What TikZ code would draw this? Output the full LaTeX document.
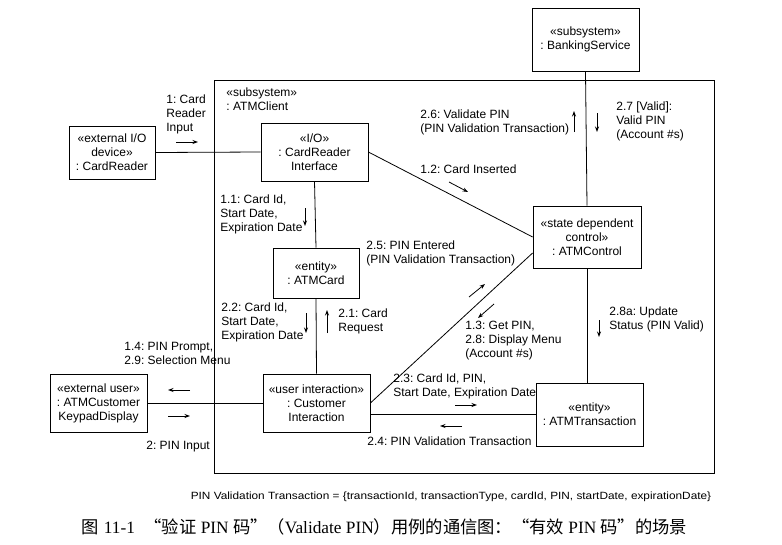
\documentclass[tikz,border=0pt]{standalone}
\usepackage{fontspec}
\setmainfont{Liberation Sans}
\newfontfamily\cjk{Noto Sans CJK SC}
\newfontfamily\lserif{Liberation Serif}
\frenchspacing
\usetikzlibrary{arrows.meta}
\tikzset{>={Stealth[length=5.5pt,width=4pt]}}
\tikzset{
    box/.style={draw, line width=0.8pt, align=center, inner sep=1pt},
    msg/.style={->, line width=0.8pt},
    lbl/.style={align=left, inner sep=0pt, anchor=west},
}

\begin{document}
\begin{tikzpicture}[x=1pt, y=-1pt, line width=0.8pt, font=\fontsize{12}{14}\selectfont]
    \useasboundingbox (0,0) rectangle (782,544);
    \node[draw, minimum width=500pt, minimum height=393pt] (atmclient) at (464,276.5) {};
    \node at (226,99) [lbl] {«subsystem»\\: ATMClient};

    \node[box, minimum width=86pt, minimum height=53pt] (cardreader) at (112,152.5) {«external I/O\\device»\\: CardReader};
    \node[box, minimum width=107pt, minimum height=58pt] (crinterface) at (314.5,152) {«I/O»\\: CardReader\\Interface};
    \node[box, minimum width=86pt, minimum height=50pt] (atmcard) at (316,273) {«entity»\\: ATMCard};
    \node[box, minimum width=107pt, minimum height=58pt] (custinteraction) at (316.5,403) {«user interaction»\\: Customer\\Interaction};
    \node[box, minimum width=97pt, minimum height=58pt] (keypad) at (98.5,403) {«external user»\\: ATMCustomer\\KeypadDisplay};
    \node[box, minimum width=107pt, minimum height=63pt] (banking) at (585.5,39.5) {«subsystem»\\: BankingService};
    \node[box, minimum width=108pt, minimum height=62pt] (atmcontrol) at (587,237) {«state dependent\\control»\\: ATMControl};
    \node[box, minimum width=107pt, minimum height=63pt] (atmtrans) at (589.5,414.5) {«entity»\\: ATMTransaction};

    \draw (cardreader.east) -- (crinterface.west);
    \draw (crinterface.south) -- (atmcard.north);
    \draw (atmcard.south) -- (custinteraction.north);
    \draw (keypad.east) -- (custinteraction.west);
    \draw (crinterface.east) -- (atmcontrol.west);
    \draw (custinteraction.east) -- ([yshift=-16pt]atmcontrol.west);
    \draw (atmtrans.west -| custinteraction.east) -- (atmtrans.west);
    \draw (banking.south) -- (atmcontrol.north);
    \draw (atmcontrol.south) -- (atmcontrol.south |- atmtrans.north);

    \node at (166,114) [lbl] {1: Card\\Reader\\Input};
    \draw[msg] (176,142) -- (198,142);
    \node at (220,214.5) [lbl] {1.1: Card Id,\\Start Date,\\Expiration Date};
    \draw[msg] (305,208) -- (305,226);
    \node at (221,322) [lbl] {2.2: Card Id,\\Start Date,\\Expiration Date};
    \draw[msg] (306,313) -- (306,333);
    \draw[msg] (327,333) -- (327,310);
    \node at (338,321) [lbl] {2.1: Card\\Request};
    \node at (124,353.5) [lbl] {1.4: PIN Prompt,\\2.9: Selection Menu};
    \draw[msg] (190,390) -- (168,390);
    \draw[msg] (168,416) -- (190,416);
    \node at (146,447) [lbl] {2: PIN Input};
    \node at (420,122) [lbl] {2.6: Validate PIN\\(PIN Validation Transaction)};
    \draw[msg] (574,132) -- (574,111);
    \draw[msg] (597,113) -- (597,132);
    \node at (616,121.5) [lbl] {2.7 [Valid]:\\Valid PIN\\(Account \#s)};
    \node at (420,169) [lbl] {1.2: Card Inserted};
    \draw[msg] (449,182) -- (468,192);
    \node at (366,253) [lbl] {2.5: PIN Entered\\(PIN Validation Transaction)};
    \draw[msg] (469,297) -- (485,284);
    \draw[msg] (494,304) -- (478,318);
    \node at (465,341) [lbl] {1.3: Get PIN,\\2.8: Display Menu\\(Account \#s)};
    \node at (393,386) [lbl] {2.3: Card Id, PIN,\\Start Date, Expiration Date};
    \draw[msg] (455,405) -- (477,405);
    \draw[msg] (462,426) -- (440,426);
    \node at (367,441) [lbl] {2.4: PIN Validation Transaction};
    \node at (609,319) [lbl] {2.8a: Update\\Status (PIN Valid)};
    \draw[msg] (599,320) -- (599,337);

    \node (footnote) at (451,497) [inner sep=0pt, xscale=1.125, font=\fontsize{10.5}{12}\selectfont] {PIN Validation Transaction = \{transactionId, transactionType, cardId, PIN, startDate, expirationDate\}};
    \node (caption) at (384.5,527) [inner sep=0pt, font=\fontsize{17.3}{20}\selectfont] {{\cjk 图}\ {\lserif 11-1}\ \ {\cjk “验证}{\lserif\ PIN\ }{\cjk 码”（}{\lserif Validate PIN}{\cjk ）用例的通信图：“有效}{\lserif\ PIN\ }{\cjk 码”的场景}};
\end{tikzpicture}
\end{document}
